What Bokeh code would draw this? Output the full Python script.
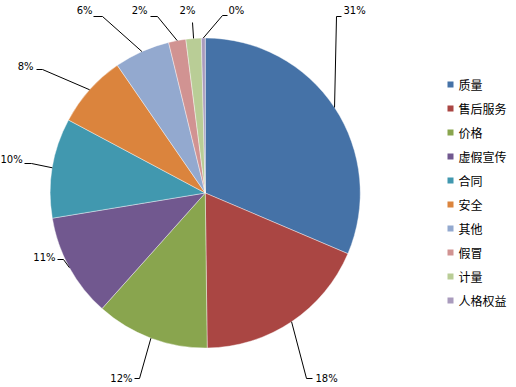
import math
from bokeh.plotting import figure
from bokeh.models import Range1d, ColumnDataSource
from bokeh.core.properties import value
from bokeh.embed import file_html
from bokeh.resources import INLINE

# ---------------- data ----------------
categories = ["质量", "售后服务", "价格", "虚假宣传", "合同", "安全", "其他", "假冒", "计量", "人格权益"]
shares = [31.4, 18.4, 11.8, 10.8, 10.4, 7.6, 5.8, 1.8, 1.6, 0.4]
colors = ["#4572A7", "#AA4643", "#89A54E", "#71588F", "#4198AF",
          "#DB843D", "#93A9CF", "#D19392", "#B9CD96", "#A99BBD"]

# ---------------- layout (reference pixel coords, y down) ----------------
CX, CY, R = 204.75, 192.5, 155.0
# label: (text x, text y, align, elbow x, elbow y, hook x or None)
label_layout = [
    (343, 10, "left", 336, 16, 341),
    (315, 378, "left", 306, 378, 312),
    (132, 378, "right", 139, 378, 134),
    (55, 257, "right", 63, 259, 57),
    (0, 159, "left", 31, 163, 24),
    (33, 66, "right", 42, 69, 36),
    (92, 10, "right", 102, 16, 93),
    (147, 10, "right", 157, 16, 150),
    (187, 10, "center", 192, 22, None),
    (228, 10, "left", 222, 15, 227),
]
LEG_X, LEG_TOP, LEG_PITCH = 450, 84, 24

W, H = 516, 387
p = figure(width=W, height=H, output_backend="svg", toolbar_location=None,
           x_axis_type=None, y_axis_type=None, min_border=0,
           x_range=Range1d(0, W), y_range=Range1d(-H, 0))
p.outline_line_color = None
p.background_fill_color = "white"
p.border_fill_color = "white"

total = sum(shares)
starts, ends, mids = [], [], []
cum = 0.0
for s in shares:
    a0 = cum / total
    cum += s
    a1 = cum / total
    # clockwise from 12 o'clock
    ends.append(math.pi / 2 - a0 * 2 * math.pi)
    starts.append(math.pi / 2 - a1 * 2 * math.pi)
    mids.append(math.pi / 2 - (a0 + a1) / 2 * 2 * math.pi)

src = ColumnDataSource(dict(start=starts, end=ends, color=colors, cat=categories))
p.wedge(x=CX, y=-CY, radius=R, start_angle="start", end_angle="end",
        direction="anticlock", fill_color="color", line_color="white",
        line_alpha=0.5, line_width=0.8, source=src)

# leader lines & labels
xs_l, ys_l = [], []
tx, ty, tt, ta = [], [], [], []
for m, s, lay in zip(mids, shares, label_layout):
    ex = CX + R * math.cos(m)
    ey = -CY + R * math.sin(m)
    lx, ly, al, bx, by, hx = lay
    px = [ex, bx]
    py = [ey, -by]
    if hx is not None:
        px.append(hx)
        py.append(-by)
    xs_l.append(px)
    ys_l.append(py)
    tx.append(lx)
    ty.append(-ly)
    tt.append("%d%%" % round(s))
    ta.append(al)

p.multi_line(xs=xs_l, ys=ys_l, line_color="#000000", line_width=1)
p.text(x=tx, y=ty, text=tt, text_align=ta, text_baseline="middle",
       text_font=value("DejaVu Sans"), text_font_size="10px", text_color="#000000")

# legend
leg_y = [-(LEG_TOP + LEG_PITCH * i) for i in range(len(categories))]
p.scatter(x=[LEG_X] * len(categories), y=leg_y, marker="square", size=6,
          fill_color=colors, line_color=None)
p.text(x=[LEG_X + 8] * len(categories), y=leg_y, text=categories,
       text_align="left", text_baseline="middle",
       text_font=value("Noto Sans CJK SC"), text_font_size="12px", text_color="#000000")

open("out.html", "w").write(file_html(p, INLINE))
